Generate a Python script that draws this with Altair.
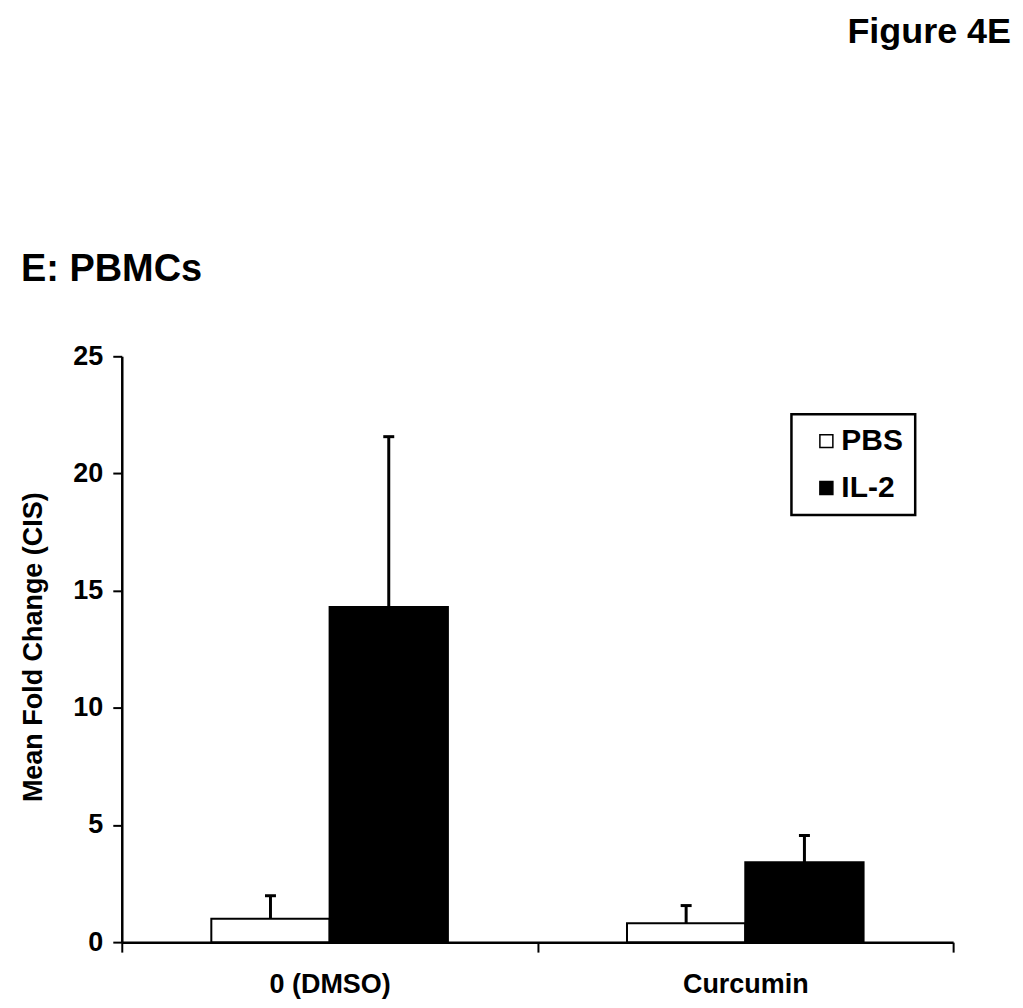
import altair as alt
import pandas as pd

categories = ["0 (DMSO)", "Curcumin"]
treatments = ["PBS", "IL-2"]
pbs_mean = [1.0, 0.81]
pbs_sem = [0.98, 0.75]
il2_mean = [14.3, 3.41]
il2_sem = [7.27, 1.14]
y_ticks = [0, 5, 10, 15, 20, 25]
fig_label = "Figure 4E"
panel_label = "E: PBMCs"
y_title = "Mean Fold Change (CIS)"

rows = []
for i, c in enumerate(categories):
    rows.append({"cat": c, "trt": "PBS", "mean": pbs_mean[i], "upper": pbs_mean[i] + pbs_sem[i]})
    rows.append({"cat": c, "trt": "IL-2", "mean": il2_mean[i], "upper": il2_mean[i] + il2_sem[i]})
df = pd.DataFrame(rows)

FONT = "Liberation Sans"

x_axis = alt.Axis(title=None, labelAngle=0, tickBand="extent", tickSize=10, tickWidth=2,
                  domainWidth=2.5, domainColor="black", tickColor="black",
                  labelFontSize=27, labelFontWeight="bold", labelColor="black",
                  labelPadding=19, labelFont=FONT, grid=False)
y_axis = alt.Axis(title=y_title, values=y_ticks, tickSize=9, tickWidth=2, domainWidth=2.5,
                  domainColor="black", tickColor="black", labelFontSize=27,
                  labelFontWeight="bold", labelColor="black", labelPadding=10, labelFont=FONT,
                  titleFont=FONT, titleFontSize=27, titleFontWeight="bold", titleColor="black",
                  titleX=-88, titleY=291, titleAngle=270, titleAlign="center",
                  titleBaseline="middle", grid=False)

x = alt.X("cat:N", sort=categories, scale=alt.Scale(paddingInner=0, paddingOuter=0), axis=x_axis)
xoff = alt.XOffset("trt:N", sort=treatments, scale=alt.Scale(paddingInner=0, paddingOuter=0.757))
yscale = alt.Scale(domain=[0, 25], nice=False)

fill = alt.Fill("trt:N", sort=treatments,
                scale=alt.Scale(domain=treatments, range=["white", "black"]),
                legend=alt.Legend(title=None, orient="none", legendX=671, legendY=58,
                                  strokeColor="black", padding=12,
                                  symbolOffset=8, symbolType="square", symbolSize=169,
                                  symbolStrokeColor="black", symbolStrokeWidth=1.5,
                                  symbolOpacity=1,
                                  labelFontSize=30, labelFontWeight="bold", labelFont=FONT,
                                  labelColor="black", rowPadding=17, labelOffset=0))

bars = alt.Chart(df).mark_bar(stroke="black", strokeWidth=2, opacity=1).encode(
    x=x, xOffset=xoff,
    y=alt.Y("mean:Q", scale=yscale, axis=y_axis),
    fill=fill,
)

err = alt.Chart(df).mark_rule(color="black", strokeWidth=3).encode(
    x=x, xOffset=xoff,
    y=alt.Y("mean:Q", scale=yscale, axis=y_axis),
    y2="upper:Q",
)

caps = alt.Chart(df).mark_tick(color="black", thickness=3, size=11, opacity=1).encode(
    x=x, xOffset=xoff,
    y=alt.Y("upper:Q", scale=yscale, axis=y_axis),
)

t1 = alt.Chart(pd.DataFrame({"t": [fig_label]})).mark_text(
    font=FONT, fontSize=36, fontWeight="bold", color="black", align="right", baseline="alphabetic"
).encode(x=alt.value(891), y=alt.value(-314), text="t:N")

t2 = alt.Chart(pd.DataFrame({"t": [panel_label]})).mark_text(
    font=FONT, fontSize=38, fontWeight="bold", color="black", align="left", baseline="alphabetic"
).encode(x=alt.value(-101), y=alt.value(-75), text="t:N")

chart = alt.layer(bars, err, caps, t1, t2).properties(
    width=833, height=587,
    background="white",
    autosize=alt.AutoSizeParams(type="none"),
    padding={"left": 114, "top": 348, "right": 62, "bottom": 56},
).configure_view(stroke=None).configure_legend(strokeWidth=2.5)

chart.save("out.html", embed_options={"renderer": "svg", "actions": False})
